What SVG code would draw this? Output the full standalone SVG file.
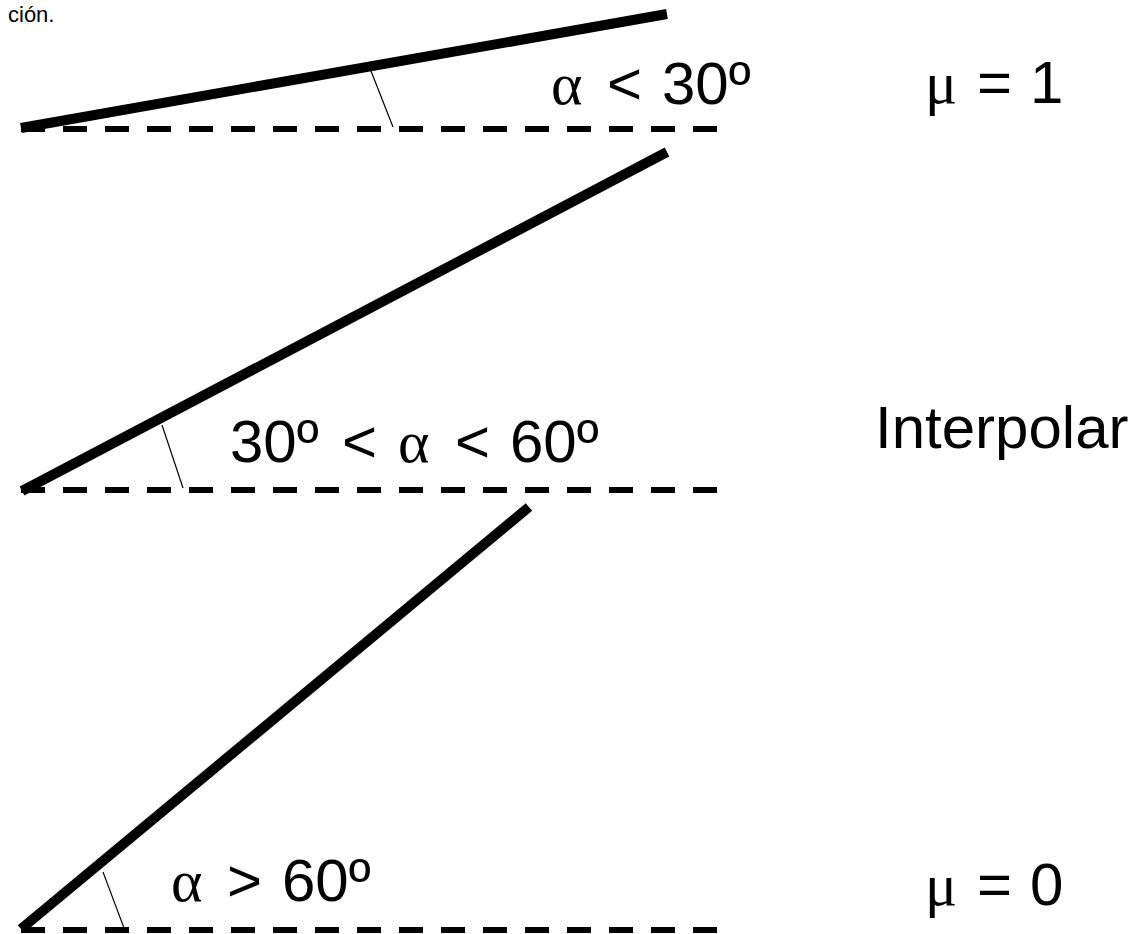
<svg xmlns="http://www.w3.org/2000/svg" width="1137" height="934" viewBox="0 0 1137 934">
<style>
.thick{stroke:#000;stroke-width:10;stroke-linecap:butt;fill:none}
.dash{stroke:#000;stroke-width:6;stroke-dasharray:24 18;fill:none}
.thin{stroke:#000;stroke-width:1.2;fill:none}
.t{font-family:"Liberation Sans",Arial,sans-serif;font-size:60px;fill:#000}
.g{font-family:"Liberation Serif","Times New Roman",serif}
.small{font-family:"Liberation Sans",Arial,sans-serif;font-size:22px;fill:#000}
</style>
<rect width="1137" height="934" fill="#fff"/>
<text class="small" x="8" y="22">ción.</text>
<g id="connectors">
<line class="dash" x1="21" y1="129" x2="718" y2="129"/>
<line class="dash" x1="21" y1="490" x2="718" y2="490"/>
<line class="dash" x1="21" y1="930" x2="718" y2="930"/>
<line class="thick" x1="21" y1="128" x2="667" y2="14"/>
<line class="thick" x1="22" y1="491" x2="667" y2="152"/>
<line class="thick" x1="21" y1="929" x2="529" y2="507"/>
<line class="thin" x1="371" y1="71" x2="393" y2="127"/>
<line class="thin" x1="162" y1="425" x2="183" y2="488"/>
<line class="thin" x1="103" y1="872" x2="124" y2="928"/>
</g>
<g id="case-low">
<text class="t" y="104"><tspan class="g" x="551">α</tspan><tspan x="607">&lt;</tspan><tspan x="662">30º</tspan></text>
<text class="t" y="103"><tspan class="g" x="925">μ</tspan><tspan x="977">=</tspan><tspan x="1030">1</tspan></text>
</g>
<g id="case-mid">
<text class="t" y="462"><tspan x="230">30º</tspan><tspan x="342">&lt;</tspan><tspan class="g" x="398">α</tspan><tspan x="455">&lt;</tspan><tspan x="510">60º</tspan></text>
<text class="t" x="875" y="448">Interpolar</text>
</g>
<g id="case-high">
<text class="t" y="901"><tspan class="g" x="171">α</tspan><tspan x="227">&gt;</tspan><tspan x="282">60º</tspan></text>
<text class="t" y="905"><tspan class="g" x="925">μ</tspan><tspan x="977">=</tspan><tspan x="1030">0</tspan></text>
</g>
</svg>
